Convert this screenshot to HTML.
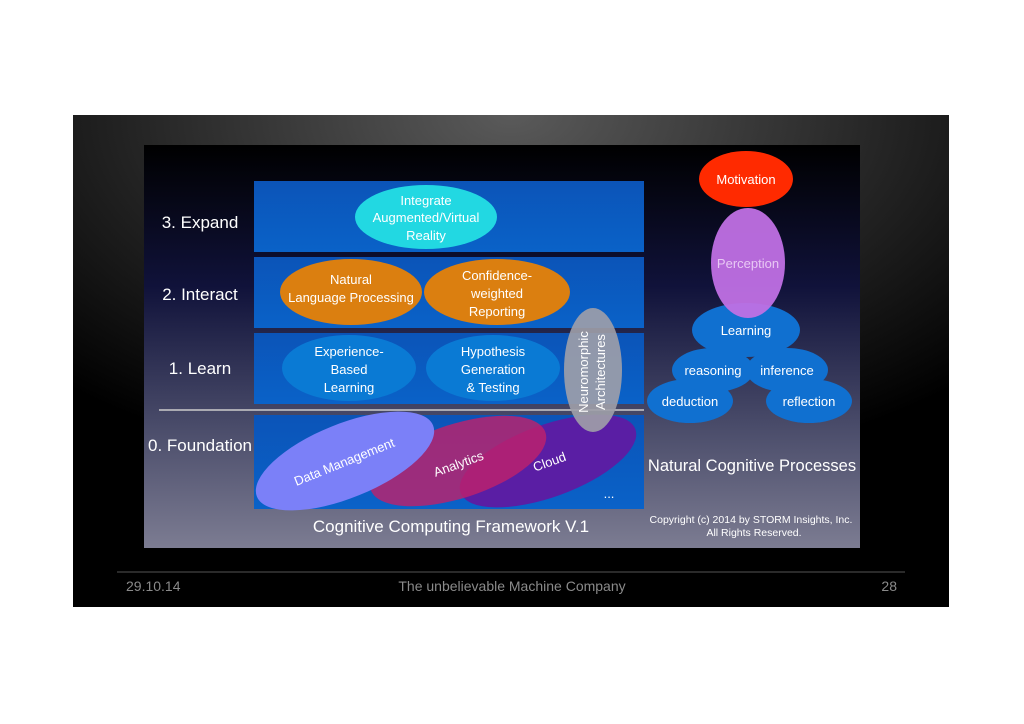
<!DOCTYPE html>
<html><head><meta charset="utf-8"><style>body{margin:0;background:#fff}svg{display:block}</style></head><body>
<svg width="1024" height="724" viewBox="0 0 1024 724" xmlns="http://www.w3.org/2000/svg" font-family="Liberation Sans, sans-serif">
<defs>
<radialGradient id="sl" cx="0.5" cy="0" r="0.75">
<stop offset="0" stop-color="#5a5a5a"/><stop offset="0.6" stop-color="#222"/><stop offset="1" stop-color="#000"/></radialGradient>
<linearGradient id="pn" x1="0" y1="0" x2="0" y2="1">
<stop offset="0" stop-color="#000"/><stop offset="0.35" stop-color="#10123a"/><stop offset="0.7" stop-color="#4a4c6a"/><stop offset="1" stop-color="#7c7c92"/></linearGradient>
<linearGradient id="bd" x1="0" y1="0" x2="0" y2="1">
<stop offset="0" stop-color="#0b54b8"/><stop offset="1" stop-color="#0a62c8"/></linearGradient>
</defs>
<rect x="73" y="115" width="876" height="492" fill="url(#sl)"/>
<rect x="144" y="145" width="716" height="403" fill="url(#pn)"/>
<g fill="url(#bd)">
<rect x="254" y="181" width="390" height="71"/>
<rect x="254" y="257" width="390" height="71"/>
<rect x="254" y="333" width="390" height="71"/>
<rect x="254" y="415" width="390" height="94"/>
</g>
<line x1="159" y1="410" x2="644" y2="410" stroke="#ccc" stroke-width="1.5"/>
<g fill="#fff" font-size="17" text-anchor="middle">
<text x="200" y="228">3. Expand</text>
<text x="200" y="300">2. Interact</text>
<text x="200" y="374">1. Learn</text>
<text x="200" y="451">0. Foundation</text>
</g>
<ellipse cx="426" cy="217" rx="71" ry="32" fill="#22d8e2"/>
<ellipse cx="351" cy="292" rx="71" ry="33" fill="#db7f10"/>
<ellipse cx="497" cy="292" rx="73" ry="33" fill="#db7f10"/>
<ellipse cx="349" cy="368" rx="67" ry="33" fill="#0a7ad4"/>
<ellipse cx="493" cy="368" rx="67" ry="33" fill="#0a7ad4"/>
<ellipse cx="548" cy="461" rx="93" ry="36" transform="rotate(-20 548 461)" fill="#5a1ea4"/>
<ellipse cx="458" cy="461" rx="92" ry="37" transform="rotate(-18 458 461)" fill="#c0206a" opacity="0.8"/>
<ellipse cx="345" cy="461" rx="95" ry="37" transform="rotate(-22 345 461)" fill="#7b80f8"/>
<ellipse cx="593" cy="370" rx="29" ry="62" fill="#a0a0a8" opacity="0.9"/>
<g fill="#fff" font-size="13" text-anchor="middle">
<text x="426" y="205">Integrate</text><text x="426" y="222">Augmented/Virtual</text><text x="426" y="240">Reality</text>
<text x="351" y="284">Natural</text><text x="351" y="302">Language Processing</text>
<text x="497" y="280">Confidence-</text><text x="497" y="298">weighted</text><text x="497" y="316">Reporting</text>
<text x="349" y="356">Experience-</text><text x="349" y="374">Based</text><text x="349" y="392">Learning</text>
<text x="493" y="356">Hypothesis</text><text x="493" y="374">Generation</text><text x="493" y="392">&amp; Testing</text>
<text transform="translate(588 372) rotate(-90)">Neuromorphic</text>
<text transform="translate(605 372) rotate(-90)">Architectures</text>
<text transform="translate(346 466) rotate(-22)">Data Management</text>
<text transform="translate(460 468) rotate(-20)">Analytics</text>
<text transform="translate(551 466) rotate(-20)">Cloud</text>
<text x="609" y="498">...</text>
</g>
<text x="451" y="532" fill="#fff" font-size="17" text-anchor="middle">Cognitive Computing Framework V.1</text>
<ellipse cx="746" cy="179" rx="47" ry="28" fill="#ff2a00"/>
<ellipse cx="690" cy="401" rx="43" ry="22" fill="#1070d0"/>
<ellipse cx="809" cy="401" rx="43" ry="22" fill="#1070d0"/>
<ellipse cx="713" cy="370" rx="41" ry="22" fill="#1070d0"/>
<ellipse cx="787" cy="370" rx="41" ry="22" fill="#1070d0"/>
<ellipse cx="746" cy="330" rx="54" ry="27" fill="#1070d0"/>
<ellipse cx="748" cy="263" rx="37" ry="55" fill="#c070e4" opacity="0.95"/>
<g fill="#fff" font-size="13" text-anchor="middle">
<text x="746" y="184">Motivation</text>
<text x="748" y="268" fill="#e8c8f4">Perception</text>
<text x="746" y="335">Learning</text>
<text x="713" y="375">reasoning</text>
<text x="787" y="375">inference</text>
<text x="690" y="406">deduction</text>
<text x="809" y="406">reflection</text>
</g>
<text x="752" y="471" fill="#fff" font-size="16.5" text-anchor="middle">Natural Cognitive Processes</text>
<g fill="#fff" font-size="10.5" text-anchor="middle">
<text x="751" y="523">Copyright (c) 2014 by STORM Insights, Inc.</text>
<text x="754" y="536">All Rights Reserved.</text>
</g>
<line x1="117" y1="572" x2="905" y2="572" stroke="#555" stroke-width="1"/>
<g fill="#8a8a8a" font-size="14">
<text x="126" y="591">29.10.14</text>
<text x="512" y="591" text-anchor="middle">The unbelievable Machine Company</text>
<text x="897" y="591" text-anchor="end">28</text>
</g>
</svg>
</body></html>
